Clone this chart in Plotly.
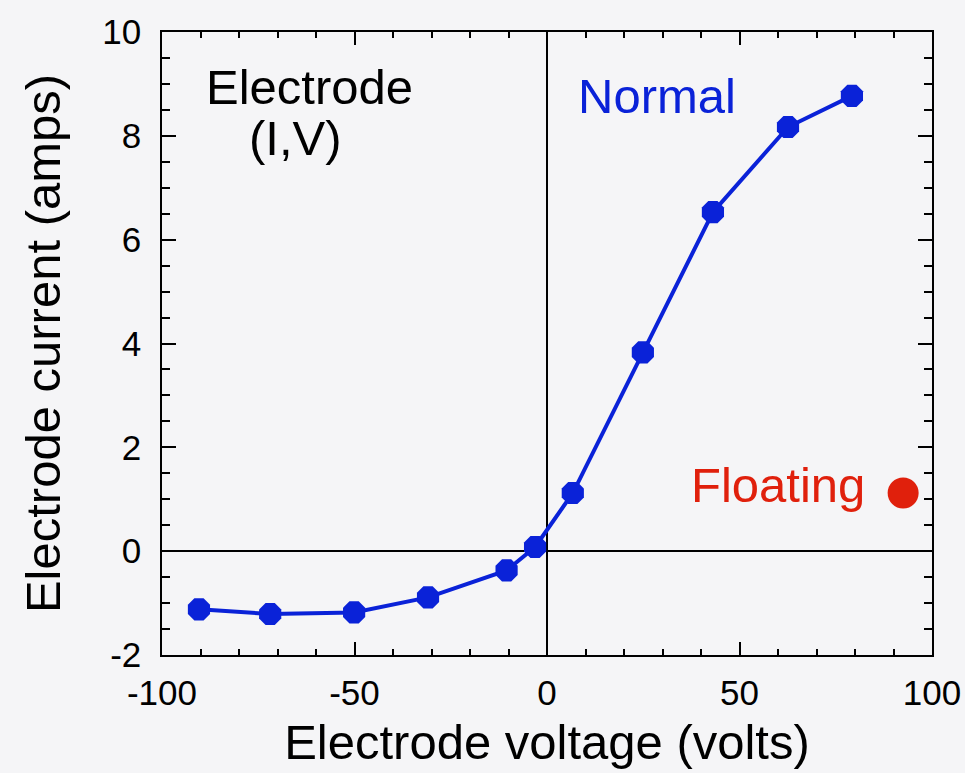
import plotly.graph_objects as go

# Measured electrode current-voltage characteristic
voltage = [-90.4, -71.9, -50.1, -30.9, -10.5, -3.1, 6.7, 24.9, 43.1, 62.6, 79.2]
current = [-1.12, -1.21, -1.18, -0.89, -0.37, 0.08, 1.12, 3.83, 6.53, 8.17, 8.77]

# Floating electrode operating point
float_voltage = [92.5]
float_current = [1.12]

x_tickvals = [-100, -50, 0, 50, 100]
x_ticktext = ["-100", "-50", "0", "50", "100"]
y_tickvals = [-2, 0, 2, 4, 6, 8, 10]
y_ticktext = ["-2", "0", "2", "4", "6", "8", "10"]

BLUE = "#0a22d8"
RED = "#e0200c"
FONT = "Liberation Sans, Arial, Helvetica, sans-serif"

fig = go.Figure()
fig.add_trace(go.Scatter(
    x=voltage, y=current, mode="lines+markers",
    line=dict(color=BLUE, width=4),
    marker=dict(color=BLUE, size=24, symbol="octagon"),
    showlegend=False, hoverinfo="skip",
))
fig.add_trace(go.Scatter(
    x=float_voltage, y=float_current, mode="markers",
    marker=dict(color=RED, size=31, symbol="circle"),
    showlegend=False, hoverinfo="skip",
))

axis_common = dict(
    showgrid=False,
    showline=True, linecolor="black", linewidth=1.5,
    mirror="ticks", ticks="inside", tickcolor="black", tickwidth=1.5,
    zeroline=True, zerolinecolor="black", zerolinewidth=1.5,
    tickfont=dict(family=FONT, size=35, color="black"),
)

fig.update_xaxes(
    **axis_common,
    range=[-100, 100], tickmode="array",
    tickvals=x_tickvals, ticktext=x_ticktext, ticklen=13,
    minor=dict(dtick=10, ticks="inside", ticklen=6, tickcolor="black", tickwidth=1.5, showgrid=False),
    ticklabelstandoff=6,
    title=dict(text="Electrode voltage (volts)", font=dict(family=FONT, size=49, color="black"), standoff=14),
)
fig.update_yaxes(
    **axis_common,
    range=[-2, 10], tickmode="array",
    tickvals=y_tickvals, ticktext=y_ticktext, ticklen=14,
    minor=dict(dtick=0.5, ticks="inside", ticklen=8, tickcolor="black", tickwidth=1.5, showgrid=False),
    ticklabelstandoff=12,
    title=dict(text="Electrode current (amps)", font=dict(family=FONT, size=49, color="black"), standoff=26),
)

annotations = [
    dict(x=-61.8, y=8.95, text="Electrode", color="black"),
    dict(x=-65.2, y=7.96, text="(I,V)", color="black"),
    dict(x=28.6, y=8.76, text="Normal", color=BLUE),
    dict(x=60.0, y=1.28, text="Floating", color=RED),
]
for a in annotations:
    fig.add_annotation(
        x=a["x"], y=a["y"], xref="x", yref="y", text=a["text"], showarrow=False,
        font=dict(family=FONT, size=49, color=a["color"]),
        xanchor="center", yanchor="middle",
    )

fig.update_layout(
    width=965, height=773,
    margin=dict(l=162, r=33, t=32, b=118, autoexpand=False),
    paper_bgcolor="#f5f5f7", plot_bgcolor="#f5f5f7",
)

fig.write_html("out.html")
